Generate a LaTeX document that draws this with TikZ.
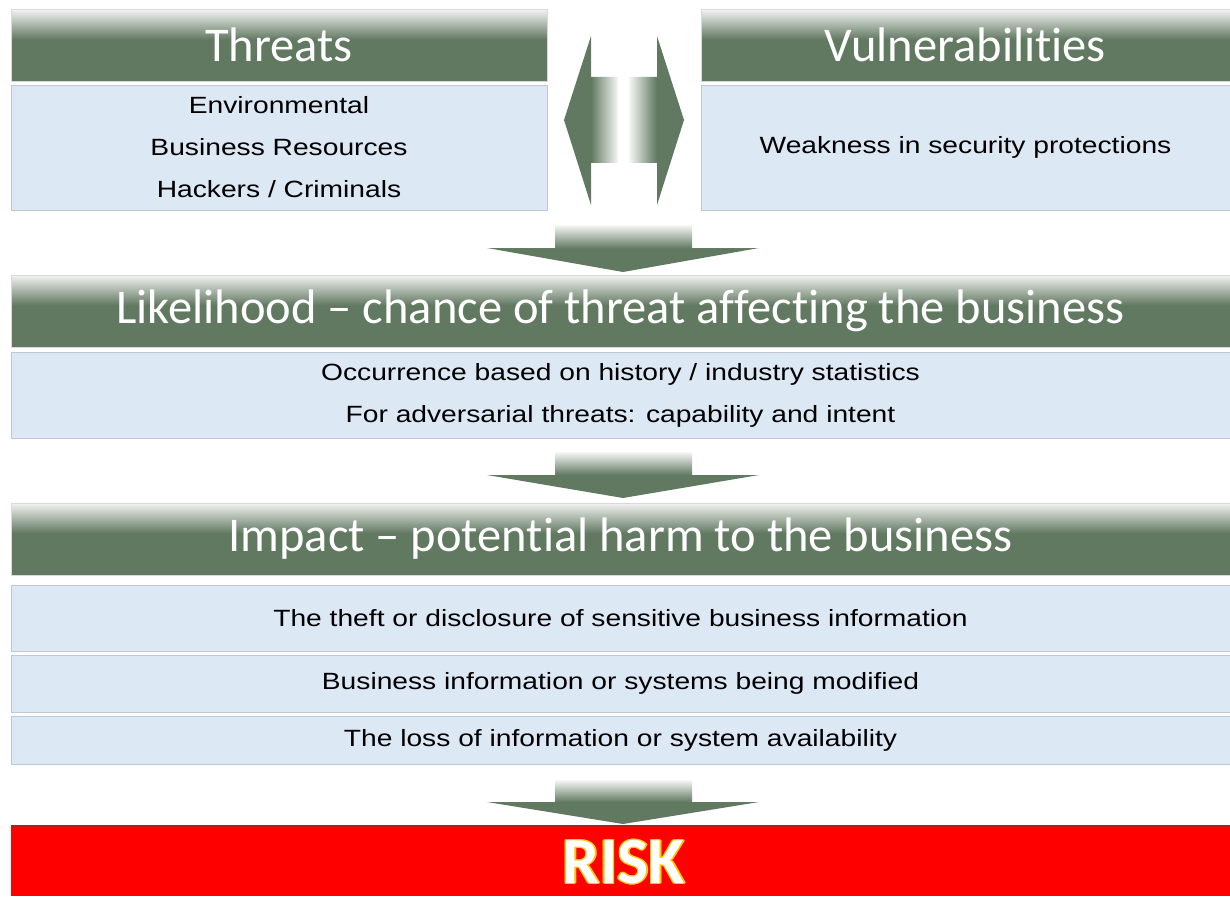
\documentclass[tikz,border=0pt]{standalone}
\usepackage{fontspec}
\setmainfont{Liberation Sans}[FakeStretch=1.2]
\newfontfamily\calfont{Carlito}[Ligatures={NoCommon,TeX}]
\usetikzlibrary{calc}
\definecolor{grn}{RGB}{98,121,97}
\definecolor{hdrtop}{RGB}{242,243,242}
\definecolor{lb}{RGB}{221,232,245}
\definecolor{lbb}{RGB}{190,200,214}
\definecolor{shafttop}{RGB}{246,248,246}
\definecolor{riskred}{RGB}{255,0,0}
\definecolor{riskedge}{RGB}{180,30,30}
\definecolor{gold}{RGB}{255,200,0}
\pgfdeclareverticalshading{hdrshade}{100bp}{color(0bp)=(grn); color(54bp)=(grn); color(75bp)=(hdrtop); color(100bp)=(hdrtop)}
\pgfdeclareverticalshading{downshade}{100bp}{color(0bp)=(grn); color(50bp)=(grn); color(75bp)=(shafttop); color(100bp)=(shafttop)}
\pgfdeclarehorizontalshading{leftshade}{100bp}{color(0bp)=(grn); color(50bp)=(grn); color(75bp)=(shafttop); color(100bp)=(shafttop)}
\pgfdeclarehorizontalshading{rightshade}{100bp}{color(0bp)=(shafttop); color(25bp)=(shafttop); color(50bp)=(grn); color(100bp)=(grn)}
\tikzset{
  hdr/.style={shading=hdrshade, draw=gray!30, line width=0.5pt, inner sep=0pt, outer sep=0pt,
    text=white, font=\calfont\fontsize{48.5}{56}\selectfont},
  body/.style={fill=lb, draw=lbb, line width=0.8pt, inner sep=0pt, outer sep=0pt,
    text=black, align=center, font=\fontsize{23.5}{42}\selectfont},
  riskbox/.style={fill=riskred, draw=none, inner sep=0pt, outer sep=0pt},
  risktext/.style={font=\calfont\bfseries\fontsize{66}{70}\selectfont, inner sep=0pt},
  blockdown/.style={shading=downshade},
}
\begin{document}
\begin{tikzpicture}[x=1pt,y=-1pt]
\useasboundingbox (0,0) rectangle (1230,896);
\fill[white] (0,0) rectangle (1230,896);

% Threats / Vulnerabilities
\node[hdr, minimum width=536, minimum height=71.5] (thrH) at (279,45.25) {Threats};
\node[body, minimum width=536, minimum height=125] (thrB) at (279,147.5) {Environmental\\Business Resources\\Hackers / Criminals};
\node[hdr, minimum width=529, minimum height=71.5] (vulH) at (965.5,45.25) {Vulnerabilities};
\node[body, minimum width=529, minimum height=125] (vulB) at (965.5,147.5) {Weakness in security protections};

% double arrow between
\shade[shading=leftshade] (564,120) -- (591,36) -- (591,77) -- (618,77) -- (618,163) -- (591,163) -- (591,205) -- cycle;
\shade[shading=rightshade] (684,120) -- (657,36) -- (657,77) -- (629,77) -- (629,163) -- (657,163) -- (657,205) -- cycle;

% down arrow 1
\shade[blockdown] (555,225) -- (692,225) -- (692,248) -- (759,248) -- (623,272) -- (487,248) -- (555,248) -- cycle;

% Likelihood
\node[hdr, minimum width=1219, minimum height=72] (likH) at (620.5,311) {Likelihood – chance of threat affecting the business};
\node[body, minimum width=1219, minimum height=86] (likB) at (620.5,395) {Occurrence based on history / industry statistics\\For adversarial threats: capability and intent};

% down arrow 2
\shade[blockdown] (555,452) -- (692,452) -- (692,475) -- (759,475) -- (623,498) -- (487,475) -- (555,475) -- cycle;

% Impact
\node[hdr, minimum width=1219, minimum height=72] (impH) at (620.5,539) {Impact – potential harm to the business};
\node[body, minimum width=1219, minimum height=66] (impA) at (620.5,618) {The theft or disclosure of sensitive business information};
\node[body, minimum width=1219, minimum height=57] (impB) at (620.5,683.5) {Business information or systems being modified};
\node[body, minimum width=1219, minimum height=48] (impC) at (620.5,740) {The loss of information or system availability};

% down arrow 3
\shade[blockdown] (555,780) -- (692,780) -- (692,802) -- (759,802) -- (623,824) -- (487,802) -- (555,802) -- cycle;

% Risk
\node[riskbox, minimum width=1219, minimum height=70] (risk) at (620.5,861) {};
\draw[riskedge, line width=1.5pt] (risk.north west) -- (risk.north east);
\foreach \a [count=\i] in {0,45,...,315}
  \node[risktext, text=gold] (riskglow\i) at ($(624,862)+(\a:1.4)$) {RISK};
\node[risktext, text=white] (risklabel) at (624,862) {RISK};
\end{tikzpicture}
\end{document}
